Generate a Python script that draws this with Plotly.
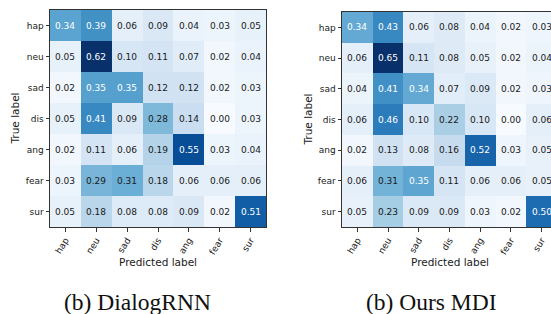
import plotly.graph_objects as go

labels = ["hap", "neu", "sad", "dis", "ang", "fear", "sur"]

dialogrnn = [
    [0.34, 0.39, 0.06, 0.09, 0.04, 0.03, 0.05],
    [0.05, 0.62, 0.10, 0.11, 0.07, 0.02, 0.04],
    [0.02, 0.35, 0.35, 0.12, 0.12, 0.02, 0.03],
    [0.05, 0.41, 0.09, 0.28, 0.14, 0.00, 0.03],
    [0.02, 0.11, 0.06, 0.19, 0.55, 0.03, 0.04],
    [0.03, 0.29, 0.31, 0.18, 0.06, 0.06, 0.06],
    [0.05, 0.18, 0.08, 0.08, 0.09, 0.02, 0.51],
]

ours_mdi = [
    [0.34, 0.43, 0.06, 0.08, 0.04, 0.02, 0.03],
    [0.06, 0.65, 0.11, 0.08, 0.05, 0.02, 0.04],
    [0.04, 0.41, 0.34, 0.07, 0.09, 0.02, 0.03],
    [0.06, 0.46, 0.10, 0.22, 0.10, 0.00, 0.06],
    [0.02, 0.13, 0.08, 0.16, 0.52, 0.03, 0.05],
    [0.06, 0.31, 0.35, 0.11, 0.06, 0.06, 0.05],
    [0.05, 0.23, 0.09, 0.09, 0.03, 0.02, 0.50],
]

captions = ["(b) DialogRNN", "(b) Ours MDI"]

blues = ["#f7fbff", "#deebf7", "#c6dbef", "#9ecae1", "#6baed6",
         "#4292c6", "#2171b5", "#08519c", "#08306b"]
colorscale = [[i / 8, c] for i, c in enumerate(blues)]

W, H = 551, 314
idx = list(range(len(labels)))

fig = go.Figure()

panels = [
    dict(z=dialogrnn, xa="x", ya="y", xdom=[50 / W, 266 / W], ydom=[1 - 227 / H, 1 - 10 / H],
         xrange=[-0.5, 6.5], ymirror=True, cap_x=137 / W, ytitle_x=15 / W, xtitle_x=158 / W),
    dict(z=ours_mdi, xa="x2", ya="y2", xdom=[342 / W, 1.0], ydom=[1 - 227 / H, 1 - 12 / H],
         xrange=[-0.5, -0.5 + 209 / 30.7], ymirror=False, cap_x=431 / W, ytitle_x=308 / W,
         xtitle_x=450 / W),
]

line_col = "#333333"
tick_font = dict(family="DejaVu Sans", size=9, color="#1a1a1a")

for k, p in enumerate(panels):
    z = p["z"]
    zmax = max(max(r) for r in z)
    zmin = min(min(r) for r in z)
    fig.add_trace(go.Heatmap(
        z=z, x=idx, y=idx, xaxis=p["xa"], yaxis=p["ya"],
        colorscale=colorscale, zmin=zmin, zmax=zmax, showscale=False,
        hoverinfo="skip",
    ))
    thresh = zmax / 2
    for i, row in enumerate(z):
        for j, v in enumerate(row):
            fig.add_annotation(
                x=j, y=i, xref=p["xa"], yref=p["ya"], text=f"{v:.2f}",
                showarrow=False, xanchor="center", yanchor="middle",
                font=dict(family="DejaVu Sans", size=9,
                          color="white" if v > thresh else "#1a1a1a"),
            )
    sfx = "" if k == 0 else "2"
    fig.update_layout(**{
        "xaxis" + sfx: dict(
            domain=p["xdom"], range=p["xrange"], tickvals=idx, ticktext=labels,
            tickangle=-58, ticks="outside", ticklen=3.5, tickcolor=line_col,
            showline=True, linecolor=line_col, linewidth=1, mirror=True,
            showgrid=False, zeroline=False, tickfont=tick_font,
            anchor="y" + sfx, fixedrange=True, automargin=False,
        ),
        "yaxis" + sfx: dict(
            domain=p["ydom"], range=[6.5, -0.5], tickvals=idx, ticktext=labels,
            ticks="outside", ticklen=3.5, tickcolor=line_col,
            showline=True, linecolor=line_col, linewidth=1, mirror=p["ymirror"],
            showgrid=False, zeroline=False, tickfont=tick_font,
            anchor="x" + sfx, fixedrange=True, automargin=False,
        ),
    })
    fig.add_annotation(x=p["xtitle_x"], y=1 - 262 / H, xref="paper", yref="paper",
                       text="Predicted label", showarrow=False,
                       xanchor="center", yanchor="middle",
                       font=dict(family="DejaVu Sans", size=10.5, color="#1a1a1a"))
    fig.add_annotation(x=p["ytitle_x"], y=(p["ydom"][0] + p["ydom"][1]) / 2,
                       xref="paper", yref="paper", text="True label", textangle=-90,
                       showarrow=False, xanchor="center", yanchor="middle",
                       font=dict(family="DejaVu Sans", size=10.5, color="#1a1a1a"))
    fig.add_annotation(x=p["cap_x"], y=1 - 302 / H, xref="paper", yref="paper",
                       text=captions[k], showarrow=False,
                       xanchor="center", yanchor="middle",
                       font=dict(family="Liberation Serif", size=23.5, color="#111111"))

fig.update_layout(
    width=W, height=H, margin=dict(l=0, r=0, t=0, b=0),
    paper_bgcolor="white", plot_bgcolor="white", showlegend=False,
)

fig.write_html(
    "out.html",
    config={"displayModeBar": False, "staticPlot": True},
    post_script="document.body.style.margin='0';document.body.style.overflow='hidden';",
)
